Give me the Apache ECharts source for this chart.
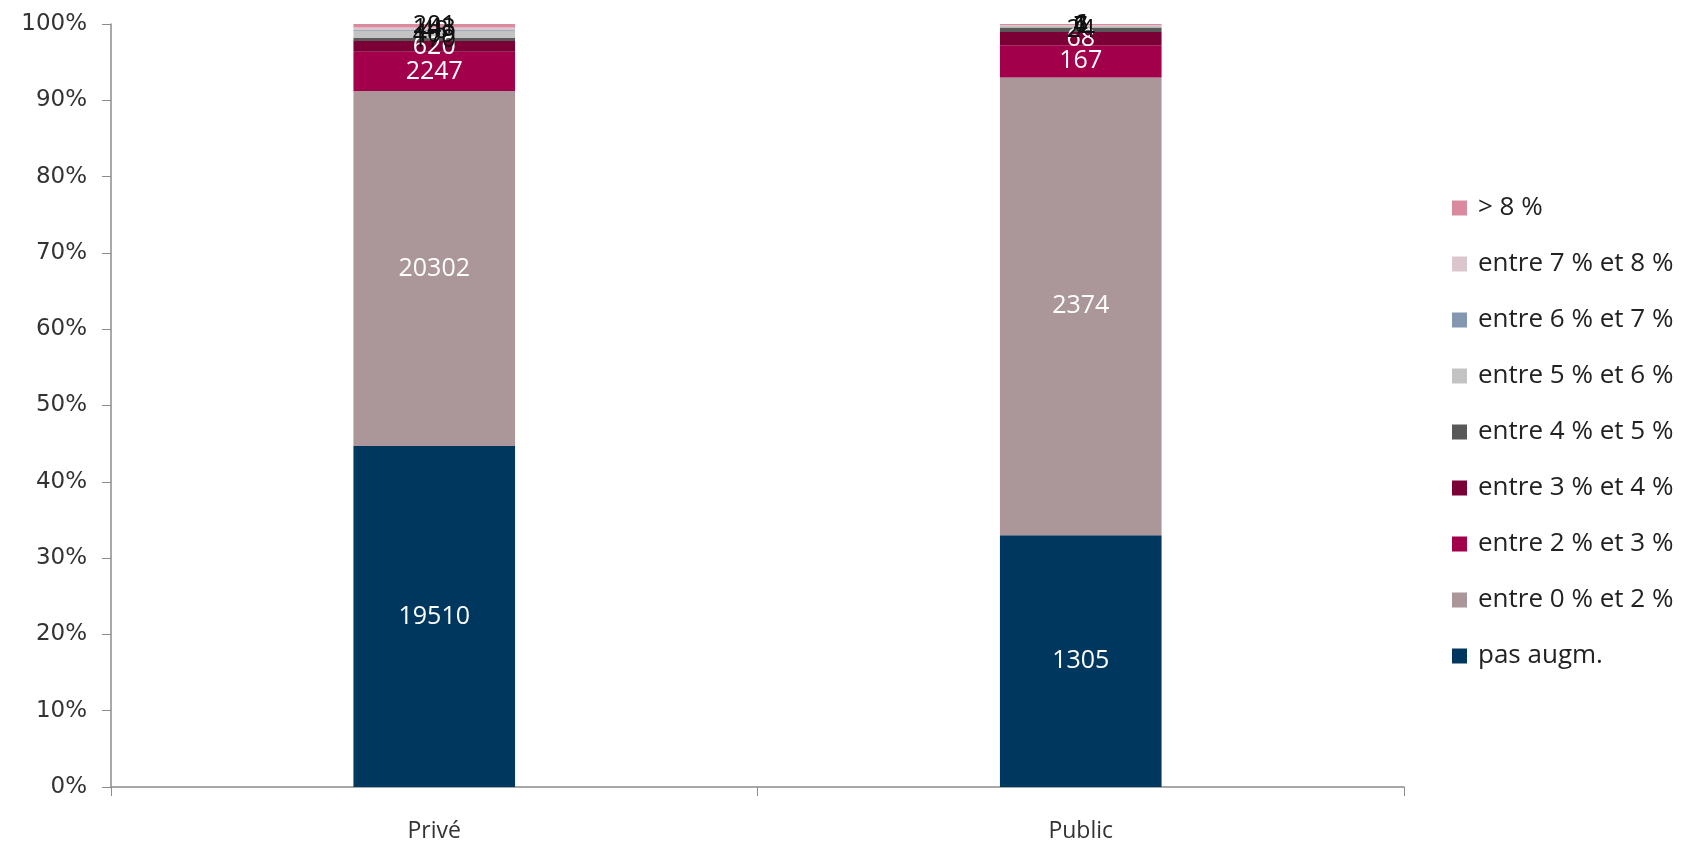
<!DOCTYPE html>
<html>
<head>
<meta charset="utf-8">
<script src="https://cdn.jsdelivr.net/npm/echarts@6/dist/echarts.min.js"></script>
<style>
  html, body { margin: 0; padding: 0; background: #ffffff; }
  #chart { width: 1690px; height: 843px; }
</style>
</head>
<body>
<div id="chart"></div>
<script>
// Sectors on the x axis
const categories = ['Privé', 'Public'];

// Bands of wage increase, bottom of the stack first
const bands = ['pas augm.', 'entre 0 % et 2 %', 'entre 2 % et 3 %', 'entre 3 % et 4 %',
  'entre 4 % et 5 %', 'entre 5 % et 6 %', 'entre 6 % et 7 %', 'entre 7 % et 8 %', '> 8 %'];

// Counts per band: [Privé, Public]
const pasAugm = [19510, 1305];
const entre0et2 = [20302, 2374];
const entre2et3 = [2247, 167];
const entre3et4 = [620, 68];
const entre4et5 = [170, 24];
const entre5et6 = [409, 7];
const entre6et7 = [48, 1];
const entre7et8 = [143, 4];
const plus8 = [201, 6];

const counts = [pasAugm, entre0et2, entre2et3, entre3et4, entre4et5, entre5et6, entre6et7, entre7et8, plus8];

const yTicks = ['0%', '10%', '20%', '30%', '40%', '50%', '60%', '70%', '80%', '90%', '100%'];

const colors = ['#00375f', '#ab979a', '#a3004c', '#7a0036', '#595959', '#c3c3c3', '#8597b0', '#dcc6cd', '#d98a9e'];
const labelColors = ['#ffffff', '#ffffff', '#ffffff', '#ffffff', '#111111', '#111111', '#111111', '#111111', '#111111'];

// Column totals, used to turn counts into shares of 100 %
const totals = categories.map((c, i) => counts.reduce((s, arr) => s + arr[i], 0));

const FONT = '"Open Sans", "Noto Sans", sans-serif';
const WIDE = '"DejaVu Sans", "Open Sans", sans-serif';

const series = bands.map((name, k) => ({
  name: name,
  type: 'bar',
  stack: 'total',
  barWidth: '25%',
  itemStyle: { color: colors[k] },
  label: {
    show: true,
    position: 'inside',
    color: labelColors[k],
    fontFamily: FONT,
    fontSize: 25,
    formatter: p => String(p.data.raw)
  },
  data: counts[k].map((n, i) => ({ value: n / totals[i] * 100, raw: n }))
}));

const chart = echarts.init(document.getElementById('chart'), null, { renderer: 'canvas' });
chart.setOption({
  backgroundColor: '#ffffff',
  animation: false,
  grid: { left: 111, right: 286, top: 24, bottom: 54, containLabel: false },
  legend: {
    orient: 'vertical',
    left: 1447,
    top: 190,
    itemWidth: 15,
    itemHeight: 15,
    itemGap: 30,
    icon: 'rect',
    data: bands.slice().reverse(),
    textStyle: { fontFamily: FONT, fontSize: 26, color: '#222222', lineHeight: 22, padding: [0, 0, 0, 6] }
  },
  xAxis: {
    type: 'category',
    data: categories,
    axisLine: { lineStyle: { color: '#8c8c8c', width: 1.5 } },
    axisTick: { show: true, length: 9, alignWithLabel: false, lineStyle: { color: '#8c8c8c' } },
    axisLabel: { fontFamily: FONT, fontSize: 23, color: '#333333', margin: 33 }
  },
  yAxis: {
    type: 'value',
    min: 0,
    max: 100,
    interval: 10,
    axisLine: { show: true, lineStyle: { color: '#8c8c8c', width: 1.5 } },
    axisTick: { show: true, length: 9, lineStyle: { color: '#8c8c8c' } },
    splitLine: { show: false },
    axisLabel: {
      fontFamily: WIDE, fontSize: 23, color: '#333333', margin: 24,
      formatter: v => yTicks[Math.round(v / 10)]
    }
  },
  series: series
});
</script>
</body>
</html>
